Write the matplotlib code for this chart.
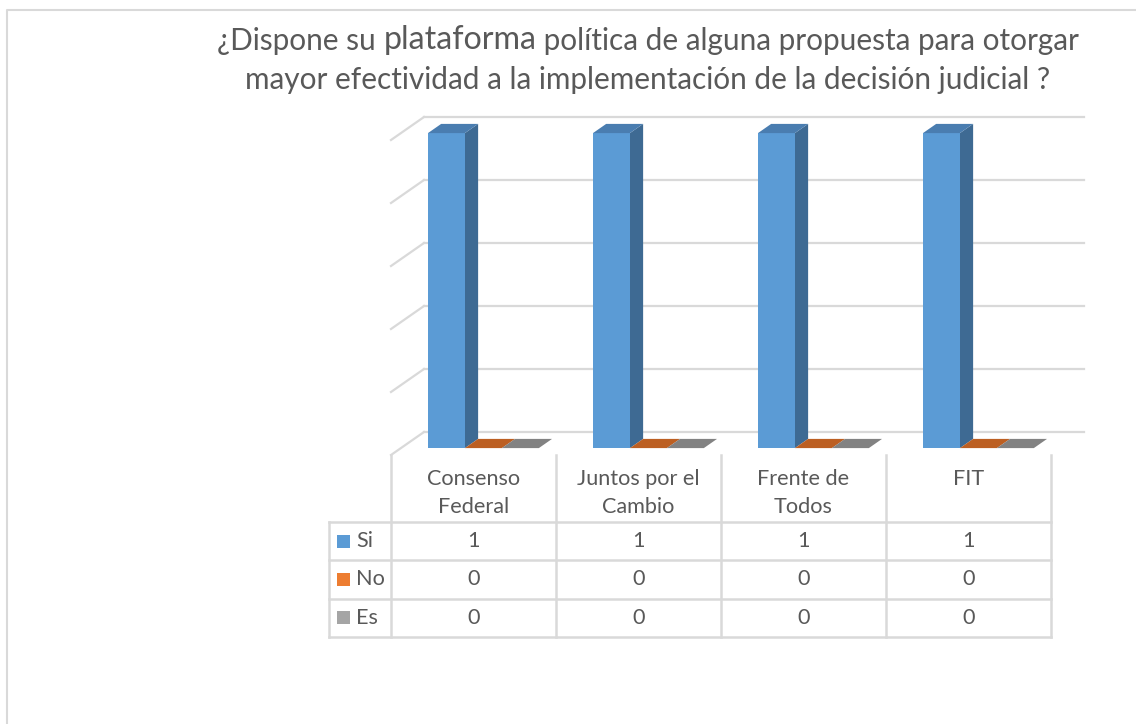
import numpy as np
import matplotlib
matplotlib.use("Agg")
import matplotlib.pyplot as plt
from matplotlib.patches import Polygon, Rectangle

plt.rcParams['font.family'] = ['Lato', 'DejaVu Sans']

# datos
categorias = ['Consenso\nFederal', 'Juntos por el\nCambio', 'Frente de\nTodos', 'FIT']
series = ['Si', 'No', 'Es']
valores_si = [1, 1, 1, 1]
valores_no = [0, 0, 0, 0]
valores_es = [0, 0, 0, 0]
grid_vals = [0, 0.2, 0.4, 0.6, 0.8, 1.0]

titulo_partes = [('¿Dispone su ', 21.4), ('plataforma', 23.2), (' política de alguna propuesta para otorgar', 21.4)]
titulo_linea2 = 'mayor efectividad a la implementación de la decisión judicial ?'

# colores (frente, lado, arriba, leyenda)
colores = {
    'Si': ('#5b9bd5', '#3e6a93', '#4a7db0', '#5b9bd5'),
    'No': ('#ed7d31', '#a9561f', '#bc5f22', '#ed7d31'),
    'Es': ('#a5a5a5', '#727272', '#828282', '#a5a5a5'),
}
texto = '#595959'
gris_linea = '#d9d9d9'

W, H = 1136, 724
fig = plt.figure(figsize=(W / 100, H / 100), dpi=100)

# lienzo en pixeles para el marco y el titulo
canvas = fig.add_axes([0, 0, 1, 1])
canvas.set_xlim(0, W)
canvas.set_ylim(H, 0)
canvas.axis('off')
canvas.plot([7, 7, W + 5], [H + 5, 10, 10], color=gris_linea, lw=1.5)

# titulo, linea 1 con palabra mas grande
renderer = fig.canvas.get_renderer()
t0 = canvas.text(0, 0, titulo_partes[0][0], fontsize=titulo_partes[0][1], color=texto,
                 va='baseline', ha='left')
prev = t0
partes = [t0]
for s, fs in titulo_partes[1:]:
    prev = canvas.annotate(s, xy=(1, 0), xycoords=prev, va='bottom', ha='left',
                           fontsize=fs, color=texto)
    partes.append(prev)
fig.canvas.draw()
bbs = [p.get_window_extent(renderer) for p in partes]
ancho = bbs[-1].x1 - bbs[0].x0
x_ini = 648 - ancho / 2
t0.set_position((x_ini, 50))
canvas.text(648, 89, titulo_linea2, fontsize=21.4, color=texto, ha='center', va='baseline')

# ejes del grafico: plano frontal con origen en la esquina del suelo
ax = fig.add_axes([391 / W, (H - 455) / H, 660 / W, 315 / H])
ax.set_xlim(0, 4)
ax.set_ylim(0, 1)
ax.axis('off')

DX, DY = 0.2, 23 / 315  # profundidad total
for v in grid_vals:
    ax.plot([DX, 4 + DX], [v + DY, v + DY], color=gris_linea, lw=1.6, clip_on=False, zorder=1)
    ax.plot([0, DX], [v, v + DY], color=gris_linea, lw=1.6, clip_on=False, zorder=1)

ancho_barra = 0.224
inicio = (1 - 3 * ancho_barra) / 2
f, b = 0.3, 0.7
datos = {'Si': valores_si, 'No': valores_no, 'Es': valores_es}
for i in range(len(categorias)):
    for j, s in enumerate(series):
        v = datos[s][i]
        x0 = i + inicio + j * ancho_barra
        x1 = x0 + ancho_barra
        cf, cl, ct, _ = colores[s]
        z = 3 + i * 0.01 + j * 0.001
        if v > 0:
            ax.add_patch(Polygon([(x1 + f * DX, f * DY), (x1 + b * DX, b * DY),
                                  (x1 + b * DX, v + b * DY), (x1 + f * DX, v + f * DY)],
                                 closed=True, fc=cl, ec='none', clip_on=False, zorder=z))
            ax.add_patch(Polygon([(x0 + f * DX, f * DY), (x1 + f * DX, f * DY),
                                  (x1 + f * DX, v + f * DY), (x0 + f * DX, v + f * DY)],
                                 closed=True, fc=cf, ec='none', clip_on=False, zorder=z))
        ax.add_patch(Polygon([(x0 + f * DX, v + f * DY), (x1 + f * DX, v + f * DY),
                              (x1 + b * DX, v + b * DY), (x0 + b * DX, v + b * DY)],
                             closed=True, fc=ct, ec='none', clip_on=False, zorder=z))

# tabla de datos
h_enc = 67 / 315
h_fila = 38.3 / 315
x_izq = (329 - 391) / 165
y_enc = -h_enc
y_filas = [y_enc - k * h_fila for k in range(4)]
kw = dict(color=gris_linea, lw=1.8, clip_on=False, zorder=2)
for k in range(5):
    ax.plot([k, k], [0, y_filas[-1]], **kw)
ax.plot([x_izq, x_izq], [y_enc, y_filas[-1]], **kw)
for y in y_filas:
    ax.plot([x_izq, 4], [y, y], **kw)

fs_tabla = 15.6
for i, c in enumerate(categorias):
    ax.text(i + 0.5, -14 / 315, c, ha='center', va='top', fontsize=fs_tabla, color=texto,
            linespacing=1.5)
for r, s in enumerate(series):
    yc = (y_filas[r] + y_filas[r + 1]) / 2
    for i in range(len(categorias)):
        ax.text(i + 0.5, yc, str(datos[s][i]), ha='center', va='center', fontsize=fs_tabla,
                color=texto)
    ax.add_patch(Rectangle((x_izq + 8 / 165, yc - 6.5 / 315), 13 / 165, 13 / 315,
                           fc=colores[s][3], ec='none', clip_on=False))
    ax.text(x_izq + 27 / 165, yc, s, ha='left', va='center', fontsize=fs_tabla, color=texto)

fig.savefig('out.png', dpi=100)
